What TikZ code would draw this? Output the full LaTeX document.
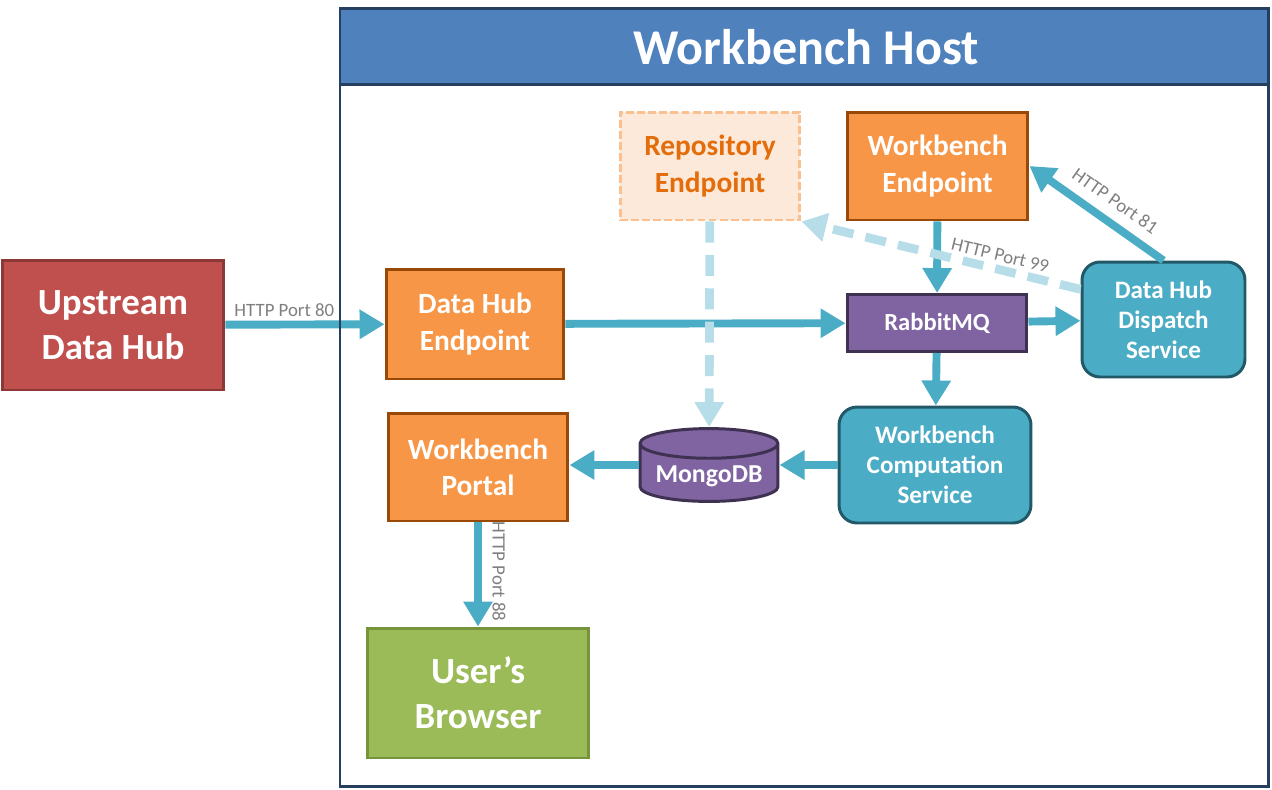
\documentclass[tikz,border=0pt]{standalone}
\usepackage{fontspec}
\setmainfont{Carlito}
\usetikzlibrary{arrows.meta,shapes.geometric}
\definecolor{wbLink}{HTML}{4BACC6}
\definecolor{wbLinkLt}{HTML}{B7DEE8}
\definecolor{wbHost}{HTML}{4F81BD}
\definecolor{wbHostDk}{HTML}{243F60}
\definecolor{wbRed}{HTML}{C0504D}
\definecolor{wbRedDk}{HTML}{8C3836}
\definecolor{wbOrange}{HTML}{F79646}
\definecolor{wbOrangeDk}{HTML}{984807}
\definecolor{wbPeach}{HTML}{FDE9D9}
\definecolor{wbPeachDk}{HTML}{FAC090}
\definecolor{wbPeachTxt}{HTML}{E46C0A}
\definecolor{wbPurple}{HTML}{8064A2}
\definecolor{wbPurpleDk}{HTML}{3F3151}
\definecolor{wbTealDk}{HTML}{215968}
\definecolor{wbGreen}{HTML}{9BBB59}
\definecolor{wbGreenDk}{HTML}{77933C}
\definecolor{wbGrey}{HTML}{7F7F7F}

\begin{document}
\begin{tikzpicture}[x=0.02cm,y=-0.02cm,
  box/.style={draw=wbOrangeDk,fill=wbOrange,line width=1.7pt,align=center,text=white,font=\fontsize{16.7}{20.5}\selectfont\bfseries,minimum width=3.6cm,minimum height=2.16cm},
  big/.style={box,font=\fontsize{21}{25.5}\selectfont\bfseries,minimum width=4.42cm,minimum height=2.6cm},
  svc/.style={box,draw=wbTealDk,fill=wbLink,rounded corners=0.36cm,font=\fontsize{14.3}{17.2}\selectfont\bfseries},
  lbl/.style={font=\fontsize{10.7}{12}\selectfont,text=wbGrey,inner sep=2pt},
  >={Triangle[length=5mm,width=5.6mm]},
  link/.style={->,draw=wbLink,line width=4.5pt},
  weak/.style={->,draw=wbLinkLt,line width=5pt,dash pattern=on 12pt off 7pt}]
\useasboundingbox (0,0) rectangle (1272,789);
\node[big,draw=wbRedDk,fill=wbRed,minimum width=4.44cm] (up) at (113,325) {Upstream\\Data Hub};
\node[box,minimum width=3.56cm,minimum height=2.2cm] (dhe) at (475,324) {Data Hub\\Endpoint};
\node[box,draw=wbPeachDk,fill=wbPeach,text=wbPeachTxt,dash pattern=on 4.5pt off 1.8pt] (repo) at (710,166) {Repository\\Endpoint};
\node[box,minimum width=3.62cm] (wbe) at (937.5,166) {Workbench\\Endpoint};
\node[box,draw=wbPurpleDk,fill=wbPurple,font=\fontsize{14}{17}\selectfont\bfseries,minimum height=1.14cm] (mq) at (937,323) {RabbitMQ};
\node[svc,minimum width=3.26cm,minimum height=2.3cm] (disp) at (1163.5,319.5) {Data Hub\\Dispatch\\Service};
\node[svc,minimum width=3.84cm,minimum height=2.32cm] (comp) at (935,465) {Workbench\\Computation\\Service};
\node[box,draw=wbPurpleDk,fill=wbPurple,font=\fontsize{14.7}{17}\selectfont\bfseries,cylinder,shape border rotate=90,aspect=0.25,minimum width=2.76cm,minimum height=1.4cm,anchor=shape center] (mongo) at (709,465) {MongoDB};
\node[box] (portal) at (478,467) {Workbench\\Portal};
\node[big,draw=wbGreenDk,fill=wbGreen] (browser) at (478,693) {User’s\\Browser};
% connectors
\draw[link] (up) -- node[lbl,above,pos=0.37] {HTTP Port 80} (dhe);
\draw[link] (dhe) -- (mq);\draw[link] (mq) -- (disp);
\draw[link] (wbe) -- (mq);\draw[link] (mq) -- (comp);
\draw[link] (comp.west) -- (comp.west -| mongo.east);\draw[link] (comp.west -| mongo.west) -- (comp.west -| portal.east);
\draw[link] (portal) -- node[lbl,rotate=-90,anchor=south,yshift=4pt,pos=0.47] {HTTP Port 88} (browser);
\draw[link] (disp.north) -- node[lbl,above=4pt,sloped,pos=0.45] {HTTP Port 81} (wbe.east);
\draw[weak] (disp.160) -- node[lbl,above,sloped,pos=0.3] {HTTP Port 99} (repo.south east);
\draw[weak] (repo) -- (mongo);
% host frame
\draw[draw=wbHostDk,fill=wbHost,line width=1.7pt] (340,8) rectangle (1268,84);
\node[text=white,font=\fontsize{28.5}{32}\selectfont\bfseries] (title) at (806,47) {Workbench Host};
\draw[draw=wbHostDk,line width=1.7pt] (340,8) rectangle (1268,786);
\end{tikzpicture}
\end{document}
